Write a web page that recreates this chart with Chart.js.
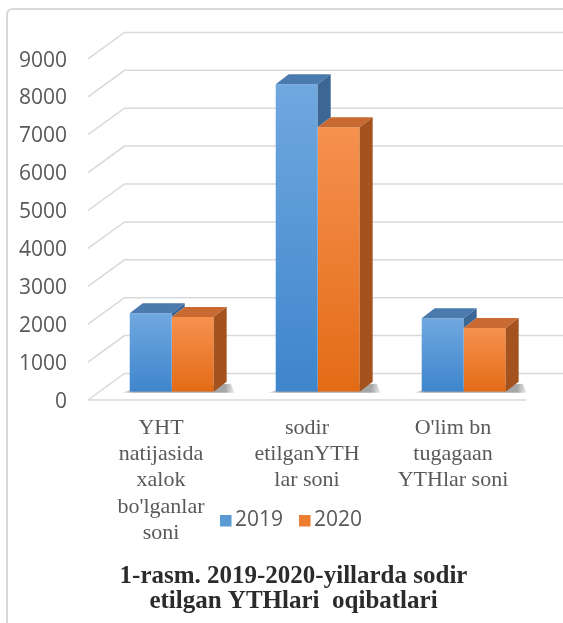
<!DOCTYPE html>
<html>
<head>
<meta charset="utf-8">
<script src="https://cdn.jsdelivr.net/npm/chart.js@4.4.1/dist/chart.umd.min.js"></script>
<style>
  html, body { margin: 0; padding: 0; background: #ffffff; }
  #wrap { width: 563px; height: 623px; }
</style>
</head>
<body>
<div id="wrap"><canvas id="c" width="563" height="623"></canvas></div>
<script>
// ---------- data ----------
const categories = [
  ['YHT', 'natijasida', 'xalok', "bo'lganlar", 'soni'],
  ['sodir', 'etilganYTH', 'lar soni'],
  ["O'lim bn", 'tugagaan', 'YTHlar soni']
];
const seriesNames = ['2019', '2020'];
const values2019 = [2070, 8110, 1940];
const values2020 = [1970, 6980, 1680];
const yMin = 0;
const yMax = 9000;
const yStep = 1000;
const captionLines = ['1-rasm. 2019-2020-yillarda sodir', 'etilgan YTHlari  oqibatlari'];

// ---------- styles ----------
const legendColors = ['#5b9bd5', '#ed7d31'];
const frontTop = ['#70a8df', '#f6914f'];
const frontBottom = ['#3e85cc', '#e36b16'];
const topColors = ['#4b7aae', '#c86a31'];
const sideColors = ['#3c6795', '#a5531e'];
const gridColor = '#d9d9d9';
const textGray = '#595959';
const PLANE = { fx: -10.7, fy: 8.3, bx: 25.8, by: -18.2 };
const BAR_DEPTH = { dx: 13, dy: -10 };

function faceGradient(i) {
  return (ctx) => {
    const ch = ctx.chart;
    const ys = ch.scales && ch.scales.y;
    if (!ys || ctx.type !== 'data') return legendColors[i];
    const yt = ys.getPixelForValue(ctx.raw);
    const yb = ys.getPixelForValue(0);
    if (!isFinite(yt) || !isFinite(yb) || yt === yb) return legendColors[i];
    const g = ch.ctx.createLinearGradient(0, yt, 0, yb);
    g.addColorStop(0, frontTop[i]);
    g.addColorStop(1, frontBottom[i]);
    return g;
  };
}

const plot3d = {
  id: 'plot3d',
  beforeDraw(chart) {
    const c = chart.ctx;
    c.save();
    c.fillStyle = '#ffffff';
    c.fillRect(0, 0, chart.width, chart.height);
    c.strokeStyle = gridColor;
    c.lineWidth = 2;
    c.beginPath();
    c.moveTo(7, chart.height + 5);
    c.lineTo(7, 15);
    c.quadraticCurveTo(7, 9, 13, 9);
    c.lineTo(chart.width + 5, 9);
    c.stroke();
    c.restore();
  },
  afterLayout(chart) {
    const tb = chart.titleBlock;
    if (tb) {
      const d = 293.5 - (tb.left + tb.right) / 2;
      tb.left += d;
      tb.right += d;
    }
  },
  beforeDatasetsDraw(chart) {
    const c = chart.ctx, ys = chart.scales.y, a = chart.chartArea;
    c.save();
    c.strokeStyle = gridColor;
    c.lineWidth = 1.5;
    ys.ticks.forEach(t => {
      const yb = ys.getPixelForValue(t.value);
      c.beginPath();
      c.moveTo(a.left + PLANE.fx, yb + PLANE.fy);
      c.lineTo(a.left + PLANE.bx, yb + PLANE.by);
      c.lineTo(chart.width, yb + PLANE.by);
      c.stroke();
    });
    const y0 = ys.getPixelForValue(0);
    c.beginPath();
    c.moveTo(a.left + PLANE.fx, y0 + PLANE.fy);
    c.lineTo(a.right + PLANE.fx, y0 + PLANE.fy);
    c.stroke();
    // soft base shadows
    const m0 = chart.getDatasetMeta(0).data, m1 = chart.getDatasetMeta(1).data;
    m0.forEach((el, j) => {
      const el2 = m1[j];
      const l = el.x - el.width / 2;
      const r = el2.x + el2.width / 2 + BAR_DEPTH.dx;
      const b = el.base;
      const g = c.createLinearGradient(l - 8, 0, r + 10, 0);
      g.addColorStop(0, 'rgba(0,0,0,0.05)');
      g.addColorStop(0.1, 'rgba(0,0,0,0.35)');
      g.addColorStop(0.9, 'rgba(0,0,0,0.35)');
      g.addColorStop(1, 'rgba(0,0,0,0.0)');
      c.fillStyle = g;
      c.beginPath();
      c.moveTo(l - 8, b + 1);
      c.lineTo(r + 8, b + 1);
      c.lineTo(r + 4, b - 8);
      c.lineTo(l + 2, b - 2);
      c.closePath();
      c.fill();
    });
    c.restore();
  },
  afterDatasetsDraw(chart) {
    const c = chart.ctx;
    const { dx, dy } = BAR_DEPTH;
    const metas = chart.data.datasets.map((d, i) => chart.getDatasetMeta(i).data);
    c.save();
    metas.forEach((els, i) => {
      els.forEach((el, j) => {
        const l = el.x - el.width / 2, r = el.x + el.width / 2, t = el.y, b = el.base;
        // the neighbouring bar to the right hides the lower part of this bar's side face
        const next = metas[i + 1] ? metas[i + 1][j] : null;
        const sideBottom = next ? Math.min(b, next.y) : b;
        c.fillStyle = topColors[i];
        c.beginPath();
        c.moveTo(l, t); c.lineTo(l + dx, t + dy); c.lineTo(r + dx, t + dy); c.lineTo(r, t);
        c.closePath(); c.fill();
        if (sideBottom > t) {
          c.fillStyle = sideColors[i];
          c.beginPath();
          c.moveTo(r, t); c.lineTo(r + dx, t + dy); c.lineTo(r + dx, sideBottom + dy); c.lineTo(r, sideBottom);
          c.closePath(); c.fill();
        }
      });
    });
    c.restore();
  },
  afterDraw(chart) {
    const c = chart.ctx;
    c.save();
    c.font = '21px "Open Sans"';
    c.textBaseline = 'alphabetic';
    c.textAlign = 'left';
    let x = 220;
    const cy = 521;
    chart.data.datasets.forEach((ds, i) => {
      c.fillStyle = legendColors[i];
      c.fillRect(x, cy - 6, 11.5, 11.5);
      c.fillStyle = textGray;
      c.fillText(ds.label, x + 15, 525.5);
      x += 15 + c.measureText(ds.label).width + 16;
    });
    c.restore();
  }
};

new Chart(document.getElementById('c'), {
  type: 'bar',
  data: {
    labels: categories,
    datasets: [
      { label: seriesNames[0], data: values2019, backgroundColor: faceGradient(0),
        borderWidth: 0, categoryPercentage: 0.575, barPercentage: 1.0 },
      { label: seriesNames[1], data: values2020, backgroundColor: faceGradient(1),
        borderWidth: 0, categoryPercentage: 0.575, barPercentage: 1.0 }
    ]
  },
  options: {
    responsive: false,
    animation: false,
    devicePixelRatio: 1,
    layout: { padding: { left: 0, right: 26.3, top: 50.6, bottom: 0 } },
    plugins: {
      legend: { display: false },
      tooltip: { enabled: false },
      title: {
        display: true,
        position: 'bottom',
        text: captionLines,
        color: '#2b2b2b',
        font: { family: '"Liberation Serif", "Times New Roman", serif', size: 25, weight: 'bold', lineHeight: 1.0 },
        padding: { top: 10, bottom: 8.5 }
      }
    },
    scales: {
      x: {
        grid: { display: false, drawTicks: false },
        border: { display: false },
        ticks: {
          color: textGray,
          font: { family: '"Liberation Serif", "Times New Roman", serif', size: 22, lineHeight: 1.2 },
          padding: 23,
          labelOffset: -10.7,
          maxRotation: 0,
          minRotation: 0,
          autoSkip: false
        },
        afterFit(s) { s.height = 162.8; }
      },
      y: {
        min: yMin,
        max: yMax,
        grid: { display: false, drawTicks: false },
        border: { display: false },
        ticks: {
          stepSize: yStep,
          color: textGray,
          font: { family: '"Open Sans", sans-serif', size: 21 },
          padding: 31.7,
          labelOffset: 10,
          callback: (v) => String(v)
        },
        afterFit(s) { s.width = 98.7; }
      }
    }
  },
  plugins: [plot3d]
});
</script>
</body>
</html>
